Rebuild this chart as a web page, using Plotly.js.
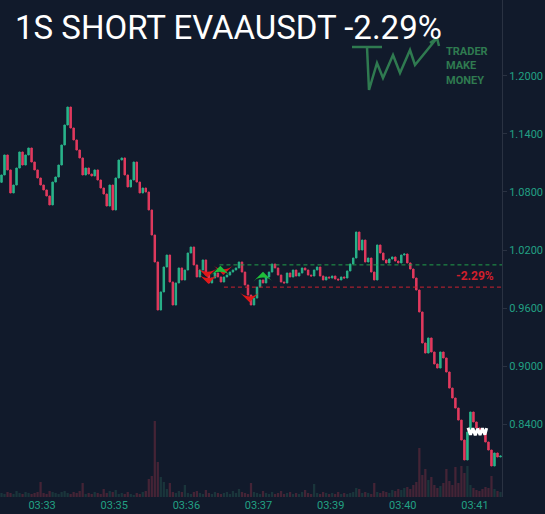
<!DOCTYPE html>
<html>
<head>
<meta charset="utf-8">
<script src="https://cdn.plot.ly/plotly-3.0.1.min.js"></script>
<style>
html,body{margin:0;padding:0;background:#111a2b;}
#chart{width:545px;height:514px;}
</style>
</head>
<body>
<div id="chart"></div>
<script>
// ---- data ----
const firstOpen = 1.0900;
const closes = [
1.0976,1.1183,1.1028,1.0790,1.0872,1.1048,1.1214,1.1079,1.1183,1.1255,
1.1110,1.1028,1.0945,1.0872,1.0821,1.0759,1.0666,1.0903,1.0955,1.1079,
1.1286,1.1493,1.1679,1.1462,1.1338,1.1234,1.1152,1.0976,1.1048,1.0986,
1.0966,1.1028,1.0924,1.0841,1.0779,1.0655,1.0872,1.0614,1.0945,1.1131,
1.1152,1.0976,1.0852,1.0924,1.1110,1.0903,1.0790,1.0841,1.0800,1.0614,
1.0355,1.0076,0.9579,0.9766,1.0024,1.0148,0.9869,0.9631,0.9859,1.0014,
0.9890,0.9993,1.0169,1.0231,1.0045,0.9921,0.9993,1.0097,0.9941,0.9859,
0.9910,0.9962,0.9921,0.9869,0.9921,0.9941,0.9972,0.9993,1.0014,1.0076,
0.9972,0.9838,0.9734,0.9631,0.9703,0.9817,0.9890,0.9859,0.9921,0.9972,
1.0055,1.0014,0.9941,0.9869,0.9859,0.9962,0.9921,0.9993,0.9931,0.9962,
1.0014,0.9993,0.9941,0.9931,0.9993,1.0024,0.9931,0.9890,0.9921,0.9910,
0.9931,0.9900,0.9890,0.9921,0.9910,0.9983,1.0055,1.0117,1.0386,1.0200,
1.0303,1.0076,1.0117,0.9972,0.9890,1.0252,1.0169,1.0097,1.0066,1.0107,
1.0128,1.0086,1.0066,1.0148,1.0159,1.0066,1.0003,0.9910,0.9786,0.9559,
0.9238,0.9134,0.9290,0.9145,0.9021,0.8979,0.9145,0.9083,0.8938,0.8772,
0.8669,0.8565,0.8441,0.8234,0.8028,0.8317,0.8524,0.8421,0.8359,0.8338,
0.8317,0.8214,0.8131,0.7966,0.8100,0.8059,0.8069
];
const volumes = [
4,3,5,4,3,6,4,3,5,4,3,4,5,15,4,3,6,5,4,3,
5,6,4,3,5,4,6,14,3,4,3,5,4,3,8,4,6,5,7,3,
4,3,5,3,2,4,3,5,6,18,21,76,35,20,15,8,14,5,4,6,
5,12,4,3,5,6,4,3,7,4,3,5,4,3,4,5,3,6,4,8,
5,4,3,14,5,4,3,6,4,3,5,3,4,6,3,4,5,3,4,3,
5,7,4,3,13,4,3,5,4,3,4,3,5,3,4,3,4,5,9,8,
4,5,4,3,14,5,4,6,5,4,7,6,8,7,9,10,8,12,15,49,
22,28,17,20,12,9,11,14,28,16,12,30,14,31,24,31,12,9,7,6,
8,10,9,21,8,6,5
];
const entryPrice = 1.0046;
const stopPrice = 0.9816;
const entryStart = 72.5;
const stopStart = 74;
const pnlLabel = '-2.29%';
const pnlX = 157.5, pnlY = 0.9935;
const sellX = [68.5, 68.8, 73.8, 82.5];
const sellY = [0.9915, 0.9850, 0.9941, 0.9660];
const buyX  = [72.8, 87.0];
const buyY  = [1.0036, 0.9975];
const exitX = [155.2,156.0,156.8,157.6,158.4,159.2,160.0,160.8,161.4];
const exitY = [0.8362,0.8288,0.8355,0.8284,0.8352,0.8286,0.8355,0.8290,0.8358];
const timeTickPos = [13.5, 37.5, 61.5, 85.5, 109.5, 133.5, 157.5];
const timeTickText = ['03:33','03:35','03:36','03:37','03:39','03:40','03:41'];
const priceTicks = [0.84, 0.90, 0.96, 1.02, 1.08, 1.14, 1.20];
const titleText = '1S SHORT EVAAUSDT -2.29%';

// ---- build OHLC ----
const idx = closes.map((_, i) => i);
const opens = closes.map((c, i) => i === 0 ? firstOpen : closes[i - 1]);
const highs = closes.map((c, i) => Math.max(c, opens[i]));
const lows  = closes.map((c, i) => Math.min(c, opens[i]));
const UP = '#29b38a', DOWN = '#e23a5e';
const volColors = closes.map((c, i) => c >= opens[i] ? 'rgba(60,150,120,0.22)' : 'rgba(190,60,80,0.30)');

const lastIdx = closes.length - 1 + 0.5;

const traces = [
  {type:'bar', x: idx, y: volumes, marker:{color: volColors, line:{width:0}}, yaxis:'y', hoverinfo:'skip'},
  {type:'candlestick', x: idx, open: opens, high: highs, low: lows, close: closes, yaxis:'y2',
   increasing:{line:{color:UP, width:1}, fillcolor:UP},
   decreasing:{line:{color:DOWN, width:1}, fillcolor:DOWN}, hoverinfo:'skip'},
  {type:'scatter', mode:'lines', x:[entryStart, lastIdx], y:[entryPrice, entryPrice], yaxis:'y2',
   line:{color:'#22a04a', width:1, dash:'4px,3px'}, hoverinfo:'skip'},
  {type:'scatter', mode:'lines', x:[stopStart, lastIdx], y:[stopPrice, stopPrice], yaxis:'y2',
   line:{color:'#cc2230', width:1, dash:'4px,3px'}, hoverinfo:'skip'},
  {type:'scatter', mode:'markers', x: sellX, y: sellY, yaxis:'y2',
   marker:{symbol:'arrow-wide', angle:180, size:14, color:'#e01818', line:{width:0}}, hoverinfo:'skip'},
  {type:'scatter', mode:'markers', x: buyX, y: buyY, yaxis:'y2',
   marker:{symbol:'arrow-wide', angle:0, size:14, color:'#1fbf3a', line:{width:0}}, hoverinfo:'skip'},
  {type:'scatter', mode:'lines', x: exitX, y: exitY, yaxis:'y2',
   line:{color:'#ffffff', width:3}, hoverinfo:'skip'}
];

const tickColor = '#22a083';
const logoColor = '#2f7a50';
const layout = {
  width:545, height:514,
  margin:{l:0, r:43, t:0, b:17, pad:0},
  paper_bgcolor:'#111a2b', plot_bgcolor:'#111a2b',
  showlegend:false,
  bargap:0.25,
  xaxis:{range:[-0.5, closes.length - 0.5], tickmode:'array', tickvals: timeTickPos, ticktext: timeTickText,
    tickfont:{family:'Roboto', size:11, color:tickColor}, showgrid:false, zeroline:false, showline:false,
    ticks:'', rangeslider:{visible:false}, fixedrange:true},
  yaxis:{range:[0, 497], visible:false, fixedrange:true},
  yaxis2:{overlaying:'y', side:'right', range:[0.7645, 1.2786], tickmode:'array', tickvals: priceTicks,
    tickformat:'.4f', tickfont:{family:'Roboto', size:11, color:tickColor}, showgrid:false, zeroline:false,
    showline:true, linecolor:'#2a3242', linewidth:1, ticks:'outside', ticklen:4, tickcolor:'#2a3242', fixedrange:true},
  annotations:[
    {text: titleText, xref:'paper', yref:'paper', x: 13/502, y:1, xanchor:'left', yanchor:'top', yshift:-6,
     showarrow:false, font:{family:'Roboto', size:33, color:'#ffffff'}},
    {text: pnlLabel, xref:'x', yref:'y2', x: pnlX, y: pnlY, showarrow:false,
     font:{family:'Roboto', size:12, color:'#d11f2c', weight:'bold'}},
    {text:'TRADER<br>MAKE<br>MONEY', xref:'paper', yref:'paper', x: 444/502, y: 1 - 43/497, xanchor:'left', yanchor:'top',
     align:'left', showarrow:false, font:{family:'Roboto', size:11, color:logoColor, weight:'bold'}}
  ],
  shapes:[
    {type:'path', xref:'paper', yref:'paper', xsizemode:'pixel', ysizemode:'pixel', xanchor:0, yanchor:1,
     path:'M352,-47 L382,-47 M367,-47 L369,-90 L377,-63 L383,-78 L393,-55 L400,-73 L410,-50 L415,-65 L437,-38 M430,-43 L437,-38 L439,-46',
     line:{color:logoColor, width:2.5}}
  ]
};

Plotly.newPlot('chart', traces, layout, {staticPlot:true, displayModeBar:false});
</script>
</body>
</html>
